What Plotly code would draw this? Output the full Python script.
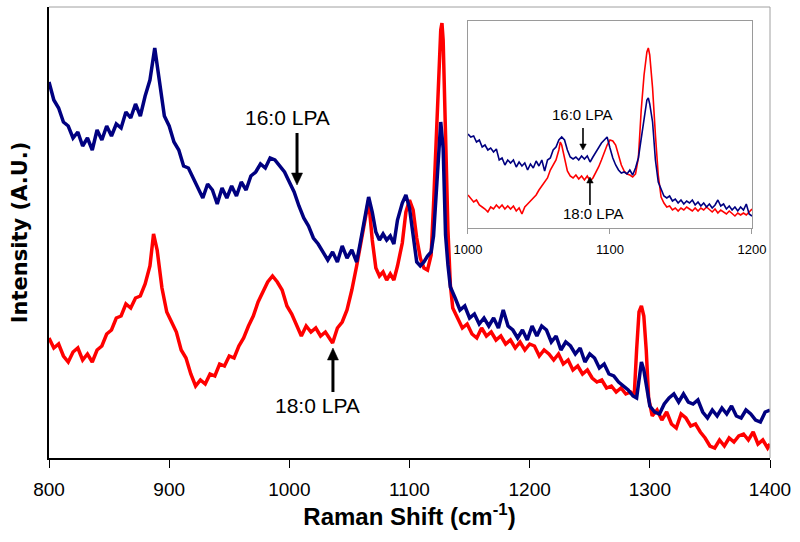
import plotly.graph_objects as go

# ---- main spectra (Raman shift in cm-1, intensity in arbitrary units) ----
shift_16 = [800, 804, 808, 812, 816, 820, 824, 828, 832, 836, 840, 844, 848, 852, 856, 860, 864, 868, 872, 876,
            880, 884, 888, 892, 896, 900, 904, 908, 912, 916, 920, 924, 928, 932, 936, 940, 944, 948, 952, 956,
            960, 964, 968, 972, 976, 980, 984, 988, 992, 996, 1000, 1004, 1008, 1012, 1016, 1020, 1024, 1028,
            1032, 1036, 1040, 1044, 1048, 1052, 1056, 1059, 1063, 1066, 1069, 1072, 1075, 1078, 1081, 1084,
            1087, 1090, 1094, 1097, 1100, 1103, 1106, 1109, 1112, 1115, 1118, 1120, 1122, 1124, 1126, 1128,
            1130, 1132, 1134, 1138, 1142, 1146, 1150, 1154, 1158, 1162, 1166, 1170, 1174, 1178, 1182, 1186,
            1190, 1194, 1198, 1202, 1206, 1210, 1214, 1218, 1222, 1226, 1230, 1234, 1238, 1242, 1246, 1250,
            1254, 1258, 1262, 1266, 1270, 1274, 1278, 1282, 1286, 1289, 1291, 1293, 1295, 1297, 1300, 1304,
            1308, 1312, 1316, 1320, 1324, 1328, 1332, 1336, 1340, 1344, 1348, 1352, 1356, 1360, 1364, 1368,
            1372, 1376, 1380, 1384, 1388, 1392, 1396, 1400]
intensity_16 = [376, 358, 350, 336, 332, 320, 326, 312, 320, 308, 328, 318, 332, 322, 334, 330, 346, 340, 354, 342,
                362, 378, 410, 376, 342, 332, 316, 308, 292, 290, 280, 270, 260, 274, 268, 254, 270, 260, 272, 262,
                276, 268, 282, 286, 294, 290, 300, 298, 292, 286, 276, 266, 252, 240, 232, 220, 214, 206,
                198, 206, 196, 212, 200, 208, 196, 215, 241, 261, 246, 226, 218, 224, 218, 222,
                214, 238, 255, 263, 250, 221, 196, 192, 196, 202, 206, 222, 258, 298, 336, 310,
                223, 193, 171, 160, 148, 152, 140, 144, 134, 140, 132, 140, 130, 148, 132, 128,
                120, 128, 118, 132, 122, 132, 128, 116, 122, 108, 116, 112, 104, 110, 96, 104,
                100, 90, 94, 84, 82, 76, 72, 68, 62, 60, 78, 96, 88, 74, 52, 46,
                44, 54, 60, 64, 56, 64, 56, 54, 58, 46, 40, 48, 42, 50, 44, 52,
                42, 40, 48, 44, 38, 36, 46, 48]

shift_18 = [800, 804, 808, 812, 816, 820, 824, 828, 832, 836, 840, 844, 848, 852, 856, 860, 864, 868, 872, 876,
            880, 884, 887, 890, 894, 898, 902, 906, 910, 914, 918, 922, 926, 930, 934, 938, 942, 946, 950, 954,
            958, 962, 966, 970, 974, 978, 982, 986, 990, 994, 998, 1002, 1006, 1010, 1014, 1018, 1022, 1026,
            1030, 1033, 1036, 1040, 1044, 1048, 1052, 1056, 1060, 1063, 1066, 1069, 1072, 1075, 1078, 1081,
            1084, 1087, 1090, 1094, 1097, 1100, 1103, 1106, 1109, 1112, 1115, 1118, 1120, 1122, 1124, 1126,
            1127, 1128, 1130, 1132, 1134, 1136, 1140, 1144, 1148, 1152, 1156, 1160, 1164, 1168, 1172, 1176,
            1180, 1184, 1188, 1192, 1196, 1200, 1204, 1208, 1212, 1216, 1220, 1224, 1228, 1232, 1236, 1240,
            1244, 1248, 1252, 1256, 1260, 1264, 1268, 1272, 1276, 1280, 1284, 1287, 1289, 1291, 1293, 1295,
            1297, 1299, 1302, 1306, 1310, 1314, 1318, 1322, 1326, 1330, 1334, 1338, 1342, 1346, 1350, 1354,
            1358, 1362, 1366, 1370, 1374, 1378, 1382, 1386, 1390, 1394, 1398, 1400]
intensity_18 = [120, 110, 114, 102, 96, 106, 110, 98, 104, 96, 108, 112, 124, 128, 140, 142, 154, 150, 160, 162,
                174, 192, 224, 208, 170, 146, 136, 126, 108, 100, 84, 72, 78, 74, 84, 82, 94, 92, 102, 100,
                112, 120, 132, 142, 156, 166, 176, 182, 176, 168, 152, 144, 134, 122, 132, 126, 130, 122,
                126, 120, 115, 130, 136, 148, 168, 192, 216, 238, 258, 218, 190, 182, 186, 178,
                184, 178, 192, 215, 246, 258, 248, 220, 200, 190, 188, 203, 253, 318, 383, 428,
                435, 418, 323, 228, 173, 150, 140, 130, 134, 124, 120, 130, 122, 126, 118, 122,
                114, 118, 110, 116, 108, 114, 112, 102, 108, 104, 98, 104, 94, 98, 88, 92,
                84, 88, 80, 76, 78, 70, 72, 66, 70, 64, 66, 62, 108, 146, 152, 142,
                108, 60, 42, 48, 38, 46, 34, 30, 44, 40, 32, 34, 26, 20, 12, 10,
                18, 12, 20, 16, 22, 24, 18, 26, 14, 18, 10, 14]

# ---- inset spectra (1000-1200 cm-1) ----
inset_shift_16 = [1000, 1002, 1004, 1006, 1008, 1010, 1012, 1014, 1016, 1018, 1020, 1022, 1024, 1026, 1028, 1030,
                  1032, 1034, 1036, 1038, 1040, 1042, 1044, 1046, 1048, 1050, 1052, 1054, 1056, 1058, 1060, 1062,
                  1064, 1066, 1068, 1070, 1072, 1074, 1076, 1078, 1080, 1082, 1084, 1086, 1088, 1090, 1092, 1094,
                  1096, 1098, 1100, 1102, 1104, 1106, 1108, 1110, 1112, 1114, 1116, 1118, 1120, 1122, 1124, 1126,
                  1127, 1128, 1130, 1132, 1134, 1136, 1138, 1140, 1142, 1144, 1146, 1148, 1150, 1152, 1154, 1156,
                  1158, 1160, 1162, 1164, 1166, 1168, 1170, 1172, 1174, 1176, 1178, 1180, 1182, 1184, 1186, 1188,
                  1190, 1192, 1194, 1196, 1198, 1200]
inset_intensity_16 = [94, 91, 92, 86, 88, 81, 83, 78, 80, 76, 79, 68, 70, 63, 68, 65,
                      68, 61, 66, 62, 65, 58, 64, 60, 67, 62, 68, 57, 68, 70, 78, 81,
                      88, 91, 88, 78, 71, 69, 71, 68, 72, 69, 72, 66, 71, 76, 80, 85,
                      88, 91, 80, 70, 63, 58, 55, 56, 54, 58, 53, 60, 70, 90, 112, 128,
                      130, 124, 106, 68, 46, 38, 32, 30, 32, 27, 29, 25, 28, 24, 27, 25,
                      28, 23, 26, 22, 25, 21, 24, 20, 23, 28, 22, 24, 19, 22, 18, 21,
                      17, 21, 18, 24, 14, 12]

inset_shift_18 = [1000, 1002, 1004, 1006, 1008, 1010, 1012, 1014, 1016, 1018, 1020, 1022, 1024, 1026, 1028, 1030,
                  1032, 1034, 1036, 1038, 1040, 1042, 1044, 1046, 1048, 1050, 1052, 1054, 1056, 1058, 1060, 1062,
                  1064, 1065, 1066, 1068, 1070, 1072, 1074, 1076, 1078, 1080, 1082, 1084, 1086, 1088, 1090, 1092,
                  1094, 1096, 1098, 1100, 1102, 1104, 1106, 1108, 1110, 1112, 1114, 1116, 1118, 1120, 1122, 1124,
                  1126, 1127, 1128, 1130, 1132, 1134, 1136, 1138, 1140, 1142, 1144, 1146, 1148, 1150, 1152, 1154,
                  1156, 1158, 1160, 1162, 1164, 1166, 1168, 1170, 1172, 1174, 1176, 1178, 1180, 1182, 1184, 1186,
                  1188, 1190, 1192, 1194, 1196, 1198, 1200]
inset_intensity_18 = [33, 29, 26, 28, 23, 21, 19, 16, 21, 19, 23, 20, 23, 19, 22, 19,
                      22, 17, 20, 14, 21, 24, 27, 30, 33, 38, 42, 46, 50, 58, 63, 68,
                      78, 86, 83, 68, 57, 52, 50, 53, 49, 52, 48, 52, 47, 50, 55, 61,
                      68, 76, 83, 88, 87, 83, 73, 63, 57, 54, 53, 51, 54, 70, 118, 153,
                      176, 180, 173, 140, 93, 53, 31, 25, 21, 22, 18, 20, 17, 20, 18, 21,
                      19, 17, 20, 17, 20, 18, 21, 18, 16, 19, 15, 18, 16, 14, 17, 14,
                      12, 15, 13, 15, 13, 16, 19]

main_ticks = [800, 900, 1000, 1100, 1200, 1300, 1400]
inset_ticks = [1000, 1100, 1200]

BLUE = "#000080"
RED = "#ff0000"
FONT = "Arial, Liberation Sans, sans-serif"

fig = go.Figure()
fig.add_trace(go.Scatter(x=shift_18, y=intensity_18, mode="lines", name="18:0 LPA",
                         line=dict(color=RED, width=3.5), xaxis="x", yaxis="y"))
fig.add_trace(go.Scatter(x=shift_16, y=intensity_16, mode="lines", name="16:0 LPA",
                         line=dict(color=BLUE, width=3.5), xaxis="x", yaxis="y"))
fig.add_trace(go.Scatter(x=inset_shift_18, y=inset_intensity_18, mode="lines", name="18:0 LPA inset",
                         line=dict(color=RED, width=1.6), xaxis="x2", yaxis="y2"))
fig.add_trace(go.Scatter(x=inset_shift_16, y=inset_intensity_16, mode="lines", name="16:0 LPA inset",
                         line=dict(color=BLUE, width=1.6), xaxis="x2", yaxis="y2"))


def arrow_shapes(xref, yref, x_tip, y_tip, y_tail, half_w, head_h, width):
    """Vertical arrow: shaft from tail to head base, solid triangle head at tip."""
    sgn = 1 if y_tail > y_tip else -1
    base = y_tip + sgn * head_h
    return [
        dict(type="line", xref=xref, yref=yref, x0=x_tip, x1=x_tip, y0=y_tail, y1=base,
             line=dict(color="black", width=width)),
        dict(type="path", xref=xref, yref=yref, fillcolor="black", line=dict(color="black", width=0.5),
             path=f"M {x_tip - half_w},{base} L {x_tip + half_w},{base} L {x_tip},{y_tip} Z"),
    ]


shapes = [
    dict(type="line", xref="paper", yref="paper", x0=0, x1=1, y0=1, y1=1,
         line=dict(color="#a0a0a0", width=1)),
    dict(type="line", xref="paper", yref="paper", x0=1, x1=1, y0=0, y1=1,
         line=dict(color="#a0a0a0", width=1)),
]
shapes += arrow_shapes("x", "y", 1006.4, 273, 325, 4.6, 12, 3)
shapes += arrow_shapes("x", "y", 1036.3, 110, 66, 4.6, 12, 3)
shapes += arrow_shapes("x2", "y2", 1081, 78, 100, 2.3, 6, 1.6)
shapes += arrow_shapes("x2", "y2", 1085.9, 51, 23, 2.3, 6, 1.6)

fig.update_layout(
    width=800, height=542,
    margin=dict(l=49, r=30, t=7, b=84),
    paper_bgcolor="white", plot_bgcolor="white",
    showlegend=False,
    font=dict(family=FONT, color="black"),
    xaxis=dict(domain=[0, 1], range=[800, 1400], tickvals=main_ticks, ticks="outside", ticklen=8,
               tickwidth=1, tickcolor="black", showline=True, linecolor="black", linewidth=1.5,
               showgrid=False, zeroline=False, ticklabelstandoff=5,
               tickfont=dict(size=19, family=FONT, color="black"), anchor="y",
               title=dict(text="<b>Raman Shift (cm<sup>-1</sup>)</b>", standoff=10,
                          font=dict(size=24, family=FONT, color="black"))),
    yaxis=dict(domain=[0, 1], range=[0, 451], showticklabels=False, ticks="", showgrid=False,
               zeroline=False, showline=True, linecolor="black", linewidth=1.5, anchor="x",
               title=dict(text="<b>Intensity (A.U.)</b>", standoff=14,
                          font=dict(size=21, family="DejaVu Sans, Arial, sans-serif", color="black"))),
    xaxis2=dict(domain=[0.5811, 0.9750], range=[1000, 1200], tickvals=inset_ticks, ticks="outside",
                ticklen=5, tickcolor="#9a9a9a", showline=True, linecolor="#9a9a9a", linewidth=1,
                mirror=True, showgrid=False, zeroline=False, anchor="y2", ticklabelstandoff=4,
                tickfont=dict(size=13, family=FONT, color="black")),
    yaxis2=dict(domain=[0.5100, 0.9690], range=[0, 207], showticklabels=False, ticks="",
                showline=True, linecolor="#9a9a9a", linewidth=1, mirror=True, showgrid=False,
                zeroline=False, anchor="x2"),
    shapes=shapes,
)

ann = [
    dict(text="16:0 LPA", xref="x", yref="y", x=998.1, y=340.5, showarrow=False,
         font=dict(size=21, family=FONT)),
    dict(text="18:0 LPA", xref="x", yref="y", x=1023.8, y=53, showarrow=False,
         font=dict(size=21, family=FONT)),
    dict(text="16:0 LPA", xref="x2", yref="y2", x=1080.3, y=113, showarrow=False,
         font=dict(size=15, family=FONT)),
    dict(text="18:0 LPA", xref="x2", yref="y2", x=1088.7, y=14, showarrow=False,
         font=dict(size=15, family=FONT)),
]
fig.update_layout(annotations=ann)

fig.write_html("out.html", config={"displayModeBar": False},
               post_script="document.body.style.margin='0';document.body.style.padding='0';")
